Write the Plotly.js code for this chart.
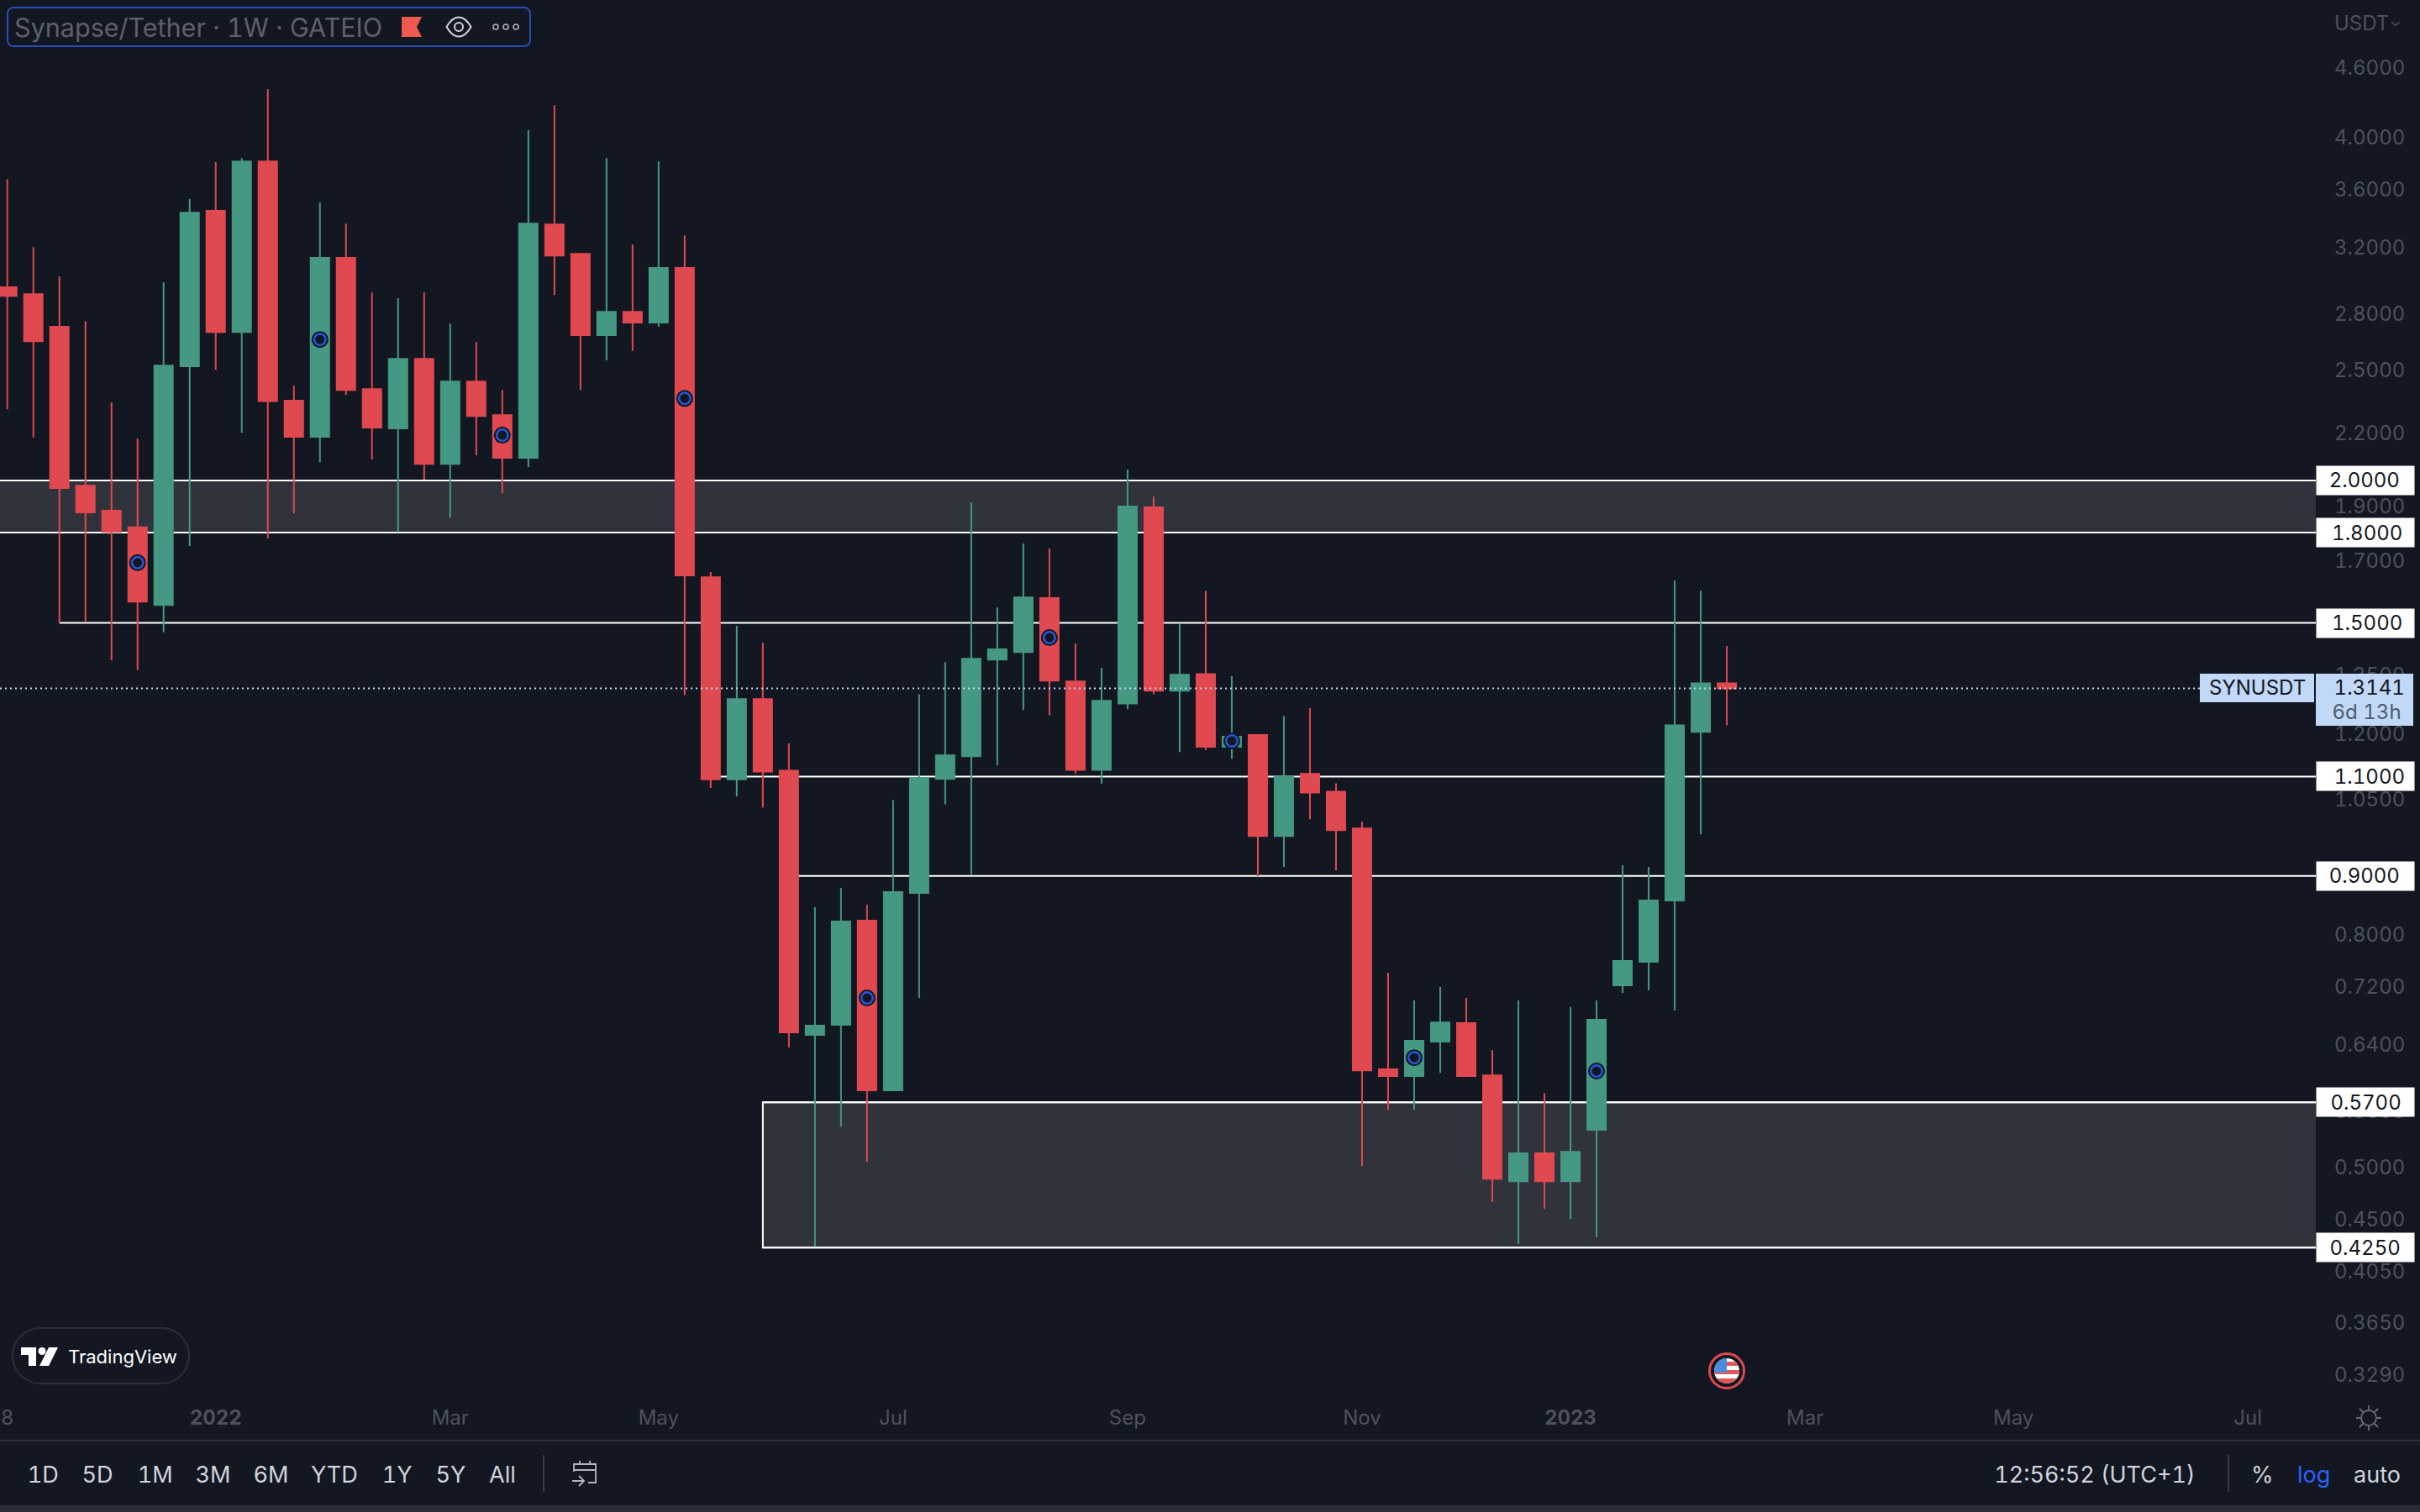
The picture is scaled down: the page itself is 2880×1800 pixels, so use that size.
<!DOCTYPE html>
<html>
<head>
<meta charset="utf-8">
<title>SYNUSDT 1W</title>
<script src="https://cdn.plot.ly/plotly-3.0.1.min.js"></script>
<style>
  html, body { margin: 0; padding: 0; background: #131722; }
  #chart { width: 2880px; height: 1800px; }
  /* plotly writes font-variant inline, so go through the feature setting */
  #chart text { font-feature-settings: "tnum" 1 !important; }
</style>
</head>
<body>
<div id="chart"></div>
<script>
// weekly candles
const weeks = [
  "2021-11-08","2021-11-15","2021-11-22","2021-11-29","2021-12-06","2021-12-13","2021-12-20","2021-12-27",
  "2022-01-03","2022-01-10","2022-01-17","2022-01-24","2022-01-31","2022-02-07","2022-02-14","2022-02-21","2022-02-28",
  "2022-03-07","2022-03-14","2022-03-21","2022-03-28","2022-04-04","2022-04-11","2022-04-18","2022-04-25",
  "2022-05-02","2022-05-09","2022-05-16","2022-05-23","2022-05-30","2022-06-06","2022-06-13","2022-06-20","2022-06-27",
  "2022-07-04","2022-07-11","2022-07-18","2022-07-25","2022-08-01","2022-08-08","2022-08-15","2022-08-22","2022-08-29",
  "2022-09-05","2022-09-12","2022-09-19","2022-09-26","2022-10-03","2022-10-10","2022-10-17","2022-10-24","2022-10-31",
  "2022-11-07","2022-11-14","2022-11-21","2022-11-28","2022-12-05","2022-12-12","2022-12-19","2022-12-26",
  "2023-01-02","2023-01-09","2023-01-16","2023-01-23","2023-01-30","2023-02-06","2023-02-13"
];
const opens = [
  2.953,2.913,2.727,1.979,1.881,1.819,1.555,2.518,3.446,2.699,3.808,2.349,2.184,3.134,2.405,2.221,2.556,2.068,
  2.442,2.282,2.093,3.353,3.160,2.681,2.811,2.750,3.071,1.645,1.094,1.286,1.113,0.6529,0.6663,0.8223,0.5838,
  0.8696,1.095,1.146,1.393,1.414,1.577,1.333,1.115,1.275,1.894,1.308,1.353,1.168,1.196,0.9755,1.106,1.067,
  0.9905,0.6092,0.6008,0.6441,0.6686,0.6018,0.4860,0.5141,0.4860,0.5390,0.7218,0.7567,0.8564,1.204,1.328
];
const highs = [
  3.675,3.203,3.019,2.759,2.341,2.176,2.983,3.529,3.802,3.834,4.406,2.421,3.504,3.359,2.923,2.889,2.923,2.745,
  2.644,2.401,4.055,4.266,3.160,3.834,3.220,3.808,3.280,1.662,1.491,1.441,1.176,0.8448,0.8785,0.8491,1.049,
  1.299,1.386,1.913,1.547,1.761,1.743,1.439,1.370,2.044,1.936,1.498,1.601,1.347,1.198,1.243,1.263,1.085,
  1.004,0.7402,0.6999,0.7191,0.7035,0.6332,0.6999,0.5807,0.6905,0.6999,0.9196,0.9165,1.634,1.601,1.432
];
const lows = [
  2.309,2.180,1.501,1.503,1.391,1.364,1.472,1.752,2.500,2.202,1.779,1.872,2.075,2.376,2.086,1.801,2.003,1.856,
  2.104,1.949,2.054,2.908,2.401,2.548,2.598,2.727,1.296,1.075,1.057,1.033,0.6365,0.4259,0.5426,0.5053,0.5838,
  0.7035,1.040,0.9026,1.125,1.258,1.245,1.106,1.084,1.260,1.299,1.156,1.161,1.140,0.8996,0.9165,1.009,0.9103,
  0.5011,0.5613,0.5613,0.6049,0.5998,0.4659,0.4280,0.4596,0.4503,0.4339,0.7106,0.7144,0.6858,0.9788,1.220
];
const closes = [
  2.903,2.649,1.969,1.875,1.803,1.566,2.522,3.434,2.699,3.808,2.347,2.184,3.134,2.401,2.225,2.556,2.068,2.442,
  2.278,2.093,3.359,3.149,2.681,2.811,2.750,3.071,1.651,1.094,1.286,1.111,0.6562,0.6652,0.8209,0.5838,0.8710,
  1.097,1.148,1.395,1.422,1.579,1.335,1.115,1.282,1.897,1.308,1.351,1.168,1.192,0.9755,1.100,1.065,0.9872,
  0.6079,0.6008,0.6452,0.6696,0.6008,0.4885,0.5141,0.4860,0.5157,0.6731,0.7580,0.8564,1.220,1.328,1.3141
];

// idea markers sitting on some of the candles
const markerWeeks = ["2021-12-13","2022-01-31","2022-03-21","2022-05-09","2022-06-27","2022-08-15","2022-10-03","2022-11-21","2023-01-09"];
const markerPrices = [1.694,2.658,2.191,2.360,0.7035,1.456,1.182,0.6236,0.6070];

const priceTicks = [4.6,4.0,3.6,3.2,2.8,2.5,2.2,1.9,1.7,1.35,1.2,1.05,0.8,0.72,0.64,0.56,0.5,0.45,0.405,0.365,0.329];
const timeTicks = ["2021-11-08","2022-01-03","2022-03-07","2022-05-02","2022-07-04","2022-09-05","2022-11-07","2023-01-02","2023-03-06","2023-05-01","2023-07-03"];
const timeLabels = ["8","<b>2022</b>","Mar","May","Jul","Sep","Nov","<b>2023</b>","Mar","May","Jul"];

// drawn levels: price and the week each starts at
const levelPrices = [2.0,1.8,1.5,1.1,0.9,0.57,0.425];
const levelStarts = ["2021-10-01","2021-10-01","2021-11-22","2022-05-16","2022-06-06","2022-05-30","2022-05-30"];
const lastPrice = 1.3141;

const toolbarLeft = ["1D","5D","1M","3M","6M","YTD","1Y","5Y","All"];
const toolbarLeftX = [51,116,184,253,322,398,472,536,598];

const FONT = "Inter, 'Noto Sans', sans-serif";
const BG = "#131722", UP = "#459882", DOWN = "#e0494f", ZONE = "#30333c", AXIS_TEXT = "#4e515b";
const W = 2880, H = 1800, plotW = 2756, plotH = 1660;
const xEnd = "2023-07-21 06:00";
const shapeEnd = "2023-09-01"; // past the right edge so the rect border gets clipped

const px = x => x / plotW;
const py = y => 1 - y / plotH;

function label(text, x, y, size, color, anchor) {
  return {
    text: text, xref: "paper", yref: "paper", x: px(x), y: py(y),
    xanchor: anchor || "center", yanchor: "middle", showarrow: false,
    font: { family: FONT, size: size, color: color }
  };
}

function icon(svg, x, y, w, h) {
  return {
    source: "data:image/svg+xml;utf8," + encodeURIComponent(svg),
    xref: "paper", yref: "paper", x: px(x), y: py(y), sizex: w / plotW, sizey: h / plotH,
    xanchor: "left", yanchor: "top", sizing: "stretch", layer: "above"
  };
}

function pixLine(x0, y0, x1, y1, color, width) {
  return {
    type: "line", xref: "paper", yref: "paper", x0: px(x0), x1: px(x1), y0: py(y0), y1: py(y1),
    layer: "above", line: { color: color, width: width }
  };
}

const shapes = [];

// grey zones go under the candles
shapes.push({ type: "rect", xref: "x", yref: "y", x0: levelStarts[0], x1: shapeEnd, y0: levelPrices[1], y1: levelPrices[0],
  fillcolor: ZONE, line: { width: 0 }, layer: "below" });
shapes.push({ type: "rect", xref: "x", yref: "y", x0: levelStarts[5], x1: shapeEnd, y0: levelPrices[6], y1: levelPrices[5],
  fillcolor: ZONE, line: { color: "#ffffff", width: 2 }, layer: "below" });

levelPrices.forEach((p, i) => {
  shapes.push({ type: "line", xref: "x", yref: "y", x0: levelStarts[i], x1: shapeEnd, y0: p, y1: p,
    line: { color: "#ffffff", width: 2 }, layer: "below" });
});

// last price line and its tags
shapes.push({ type: "line", xref: "paper", yref: "y", x0: 0, x1: px(2618), y0: lastPrice, y1: lastPrice,
  line: { color: "#c3d9f8", width: 2, dash: "2px,4px" }, layer: "above" });
shapes.push({ type: "rect", xref: "paper", yref: "paper", x0: px(2618), x1: px(2754), y0: py(802), y1: py(836),
  fillcolor: "#c1d8f7", line: { width: 0 }, layer: "above" });
shapes.push({ type: "rect", xref: "paper", yref: "paper", x0: 1, x1: px(2872), y0: py(802), y1: py(864),
  fillcolor: "#c1d8f7", line: { width: 0 }, layer: "above" });

// toolbar pieces
shapes.push({ type: "rect", xref: "paper", yref: "paper", x0: px(-2), x1: px(W + 2), y0: py(1792), y1: py(H + 2),
  fillcolor: "#2a2e39", line: { width: 0 }, layer: "above" });
shapes.push(pixLine(0, 1715, W, 1715, "#2a2e39", 2));
shapes.push(pixLine(647, 1732, 647, 1776, "#363a45", 2));
shapes.push(pixLine(2652, 1732, 2652, 1776, "#363a45", 2));

const annotations = [
  label("Synapse/Tether · 1W · GATEIO", 18, 32, 30.5, "#5d606b", "left"),
  label("USDT", 2776, 27, 24, AXIS_TEXT, "left"),
  label("TradingView", 79, 1615, 22, "#ffffff", "left"),
  label("SYNUSDT", 2686, 819, 24, "#131722"),
  label("1.3141", 2854, 819, 24, "#131722", "right"),
  label("6d 13h", 2856, 847, 24, "#4c5a6e", "right"),
  label("12:56:52 (UTC+1)", 2380, 1755, 27, "#d1d4dc", "left"),
  label("%", 2692, 1755, 27, "#d1d4dc"),
  label("log", 2753, 1755, 27, "#2962ff"),
  label("auto", 2829, 1755, 27, "#d1d4dc")
];
toolbarLeft.forEach((t, i) => annotations.push(label(t, toolbarLeftX[i], 1755, 27, "#d1d4dc")));
levelPrices.forEach(p => {
  // white tag first, then the price on top of it
  annotations.push({ text: " ", xref: "paper", yref: "y", x: 1, y: Math.log10(p),
    xanchor: "left", yanchor: "middle", showarrow: false, width: 112, height: 30, borderpad: 2,
    bgcolor: "#ffffff", font: { family: FONT, size: 24, color: "#131722" } });
  annotations.push({ text: p.toFixed(4), xref: "paper", yref: "y", x: px(2857), y: Math.log10(p),
    xanchor: "right", yanchor: "middle", showarrow: false, font: { family: FONT, size: 24, color: "#131722" } });
});

const images = [
  icon('<svg xmlns="http://www.w3.org/2000/svg" viewBox="0 0 624 48"><rect x="1" y="1" width="622" height="46" rx="7" fill="none" stroke="#2a4bb8" stroke-width="2"/></svg>', 8, 8, 624, 48),
  icon('<svg xmlns="http://www.w3.org/2000/svg" viewBox="0 0 24 24"><path d="M0 0H24L18 12L24 24H0Z" fill="#f0594f"/></svg>', 478, 20, 24, 24),
  icon('<svg xmlns="http://www.w3.org/2000/svg" viewBox="0 0 32 26"><path d="M1.5 13Q8 1.5 16 1.5Q24 1.5 30.5 13Q24 24.5 16 24.5Q8 24.5 1.5 13Z" fill="none" stroke="#d1d4dc" stroke-width="2"/><circle cx="16" cy="13" r="5" fill="none" stroke="#d1d4dc" stroke-width="2"/></svg>', 530, 19, 32, 26),
  icon('<svg xmlns="http://www.w3.org/2000/svg" viewBox="0 0 34 10"><g fill="none" stroke="#b2b5be" stroke-width="1.6"><circle cx="5" cy="5" r="3"/><circle cx="17" cy="5" r="3"/><circle cx="29" cy="5" r="3"/></g></svg>', 585, 27, 34, 10),
  icon('<svg xmlns="http://www.w3.org/2000/svg" viewBox="0 0 12 8"><path d="M1 2L6 6L11 2" fill="none" stroke="#4e515b" stroke-width="1.6"/></svg>', 2845, 24, 12, 8),
  icon('<svg xmlns="http://www.w3.org/2000/svg" viewBox="0 0 212 68"><rect x="1" y="1" width="210" height="66" rx="33" fill="none" stroke="#2a2e39" stroke-width="2"/></svg>', 14, 1580, 212, 68),
  icon('<svg xmlns="http://www.w3.org/2000/svg" viewBox="0 0 44 22"><path d="M0 0H18V22H9V9H0Z" fill="#fff"/><circle cx="25" cy="4.5" r="4.5" fill="#fff"/><path d="M33 0H44L33 22H22Z" fill="#fff"/></svg>', 25, 1604, 44, 22),
  icon('<svg xmlns="http://www.w3.org/2000/svg" viewBox="0 0 44 44"><defs><clipPath id="c"><circle cx="22" cy="22" r="15"/></clipPath></defs><circle cx="22" cy="22" r="20.5" fill="#131722" stroke="#e0494f" stroke-width="3"/><g clip-path="url(#c)"><rect x="7" y="7" width="30" height="30" fill="#fff"/><rect x="7" y="11" width="30" height="5" fill="#e0575a"/><rect x="7" y="21" width="30" height="5" fill="#e0575a"/><rect x="7" y="31" width="30" height="6" fill="#e0575a"/><rect x="7" y="7" width="15" height="17" fill="#4a8be0"/></g></svg>', 2033, 1610, 44, 44),
  icon('<svg xmlns="http://www.w3.org/2000/svg" viewBox="0 0 34 34"><g fill="none" stroke="#b2b5be" stroke-width="1.8"><path d="M3 15V6H29V28H20M3 13H29M10 2V7M22 2V7"/><path d="M1 26H14M9 20L15 26L9 32"/></g></svg>', 680, 1737, 34, 34),
  icon('<svg xmlns="http://www.w3.org/2000/svg" viewBox="0 0 32 32"><g fill="none" stroke="#6a6d78" stroke-width="1.8"><circle cx="16" cy="16" r="9"/><path d="M16 1V6M16 26V31M1 16H6M26 16H31M5 5L9 9M23 23L27 27M27 5L23 9M9 23L5 27"/></g></svg>', 2803, 1672, 32, 32)
];

const traces = [
  {
    type: "candlestick",
    x: weeks, open: opens, high: highs, low: lows, close: closes,
    whiskerwidth: 0,
    increasing: { line: { color: UP, width: 2 }, fillcolor: UP },
    decreasing: { line: { color: DOWN, width: 2 }, fillcolor: DOWN },
    hoverinfo: "skip"
  },
  {
    type: "scatter", mode: "markers", x: markerWeeks, y: markerPrices, hoverinfo: "skip",
    marker: { symbol: "circle", size: 20, color: BG, line: { width: 0 } }
  },
  {
    type: "scatter", mode: "markers", x: markerWeeks, y: markerPrices, hoverinfo: "skip",
    marker: { symbol: "circle", size: 13.5, color: BG, line: { color: "#2656d8", width: 2.5 } }
  }
];

Plotly.newPlot("chart", traces, {
  width: W,
  height: H,
  autosize: false,
  showlegend: false,
  dragmode: false,
  paper_bgcolor: BG,
  plot_bgcolor: BG,
  margin: { l: 0, r: W - plotW, t: 0, b: H - plotH, pad: 0 },
  font: { family: FONT },
  boxmode: "overlay",
  boxgap: 0.29,
  boxgroupgap: 0,
  xaxis: {
    type: "date",
    range: ["2021-11-06 01:00", xEnd],
    rangeslider: { visible: false },
    showgrid: false, zeroline: false, showline: false,
    tickmode: "array", tickvals: timeTicks, ticktext: timeLabels,
    ticks: "", ticklabelstandoff: 11,
    tickfont: { family: FONT, size: 24, color: AXIS_TEXT }
  },
  yaxis: {
    type: "log",
    side: "right",
    range: [Math.log10(0.3160), Math.log10(5.275)],
    showgrid: false, zeroline: false, showline: false,
    tickmode: "array", tickvals: priceTicks, ticktext: priceTicks.map(v => v.toFixed(4)),
    ticks: "", ticklabelstandoff: 21,
    tickfont: { family: FONT, size: 24, color: AXIS_TEXT }
  },
  shapes: shapes,
  annotations: annotations,
  images: images
}, { displayModeBar: false, staticPlot: true });
</script>
</body>
</html>
